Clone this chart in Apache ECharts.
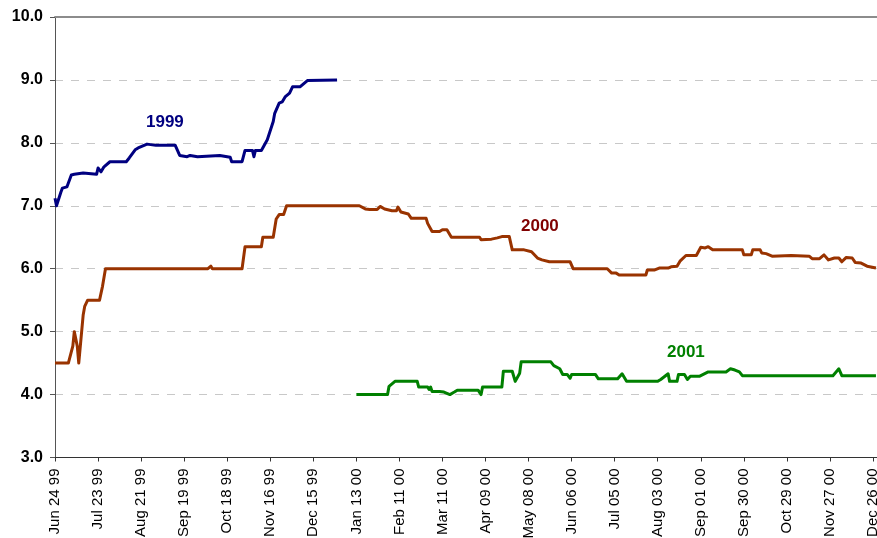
<!DOCTYPE html>
<html>
<head>
<meta charset="utf-8">
<script src="https://cdn.jsdelivr.net/npm/echarts@6/dist/echarts.min.js"></script>
<style>
html,body{margin:0;padding:0;background:#fff;}
#chart{width:877px;height:538px;}
</style>
</head>
<body>
<div id="chart"></div>
<script>
// x values are days since Jun 24 1999
const xTickLabels = ['Jun 24 99','Jul 23 99','Aug 21 99','Sep 19 99','Oct 18 99','Nov 16 99','Dec 15 99','Jan 13 00','Feb 11 00','Mar 11 00','Apr 09 00','May 08 00','Jun 06 00','Jul 05 00','Aug 03 00','Sep 01 00','Sep 30 00','Oct 29 00','Nov 27 00','Dec 26 00'];
const yTicks = [3,4,5,6,7,8,9,10];

const series1999 = [[0,7.12],[1,7.0],[4,7.22],[5,7.28],[8,7.3],[11,7.49],[13,7.5],[19,7.52],[20,7.5],[28,7.5],[29,7.6],[31,7.54],[33,7.62],[37,7.7],[48,7.7],[50,7.76],[54,7.89],[56,7.92],[62,7.98],[68,7.96],[81,7.96],[84,7.8],[89,7.78],[91,7.8],[96,7.78],[97,7.8],[111,7.8],[112,7.77],[118,7.77],[119,7.7],[126,7.7],[128,7.88],[133,7.88],[134,7.78],[135,7.88],[139,7.88],[143,8.05],[147,8.34],[148,8.47],[151,8.63],[153,8.65],[155,8.73],[158,8.79],[160,8.89],[165,8.89],[168,8.95],[170,8.99],[190,9.0]];

const series2000 = [[0,4.5],[9,4.5],[12,4.77],[13,5.0],[15,4.77],[16,4.5],[19,5.27],[20,5.4],[22,5.5],[30,5.5],[32,5.72],[34,6.0],[103,6.0],[105,6.04],[106,6.0],[126,6.0],[128,6.35],[139,6.35],[140,6.5],[147,6.5],[149,6.79],[151,6.86],[154,6.86],[156,7.0],[205,7.0],[209,6.95],[212,6.94],[217,6.94],[219,6.99],[222,6.95],[227,6.92],[230,6.92],[231,6.98],[233,6.9],[238,6.87],[240,6.8],[250,6.8],[251,6.72],[254,6.59],[259,6.59],[261,6.62],[264,6.62],[267,6.5],[286,6.5],[287,6.46],[294,6.47],[298,6.49],[301,6.51],[306,6.51],[308,6.3],[316,6.3],[321,6.27],[325,6.17],[328,6.14],[333,6.11],[347,6.11],[349,6.0],[372,6.0],[375,5.93],[378,5.93],[380,5.9],[398,5.9],[399,5.98],[404,5.98],[407,6.01],[413,6.01],[415,6.03],[419,6.04],[421,6.12],[425,6.21],[432,6.21],[435,6.34],[438,6.33],[440,6.35],[443,6.3],[463,6.3],[464,6.22],[469,6.22],[470,6.3],[475,6.3],[476,6.25],[479,6.24],[483,6.2],[496,6.21],[508,6.2],[510,6.16],[515,6.16],[516,6.14],[518,6.22],[521,6.14],[525,6.17],[528,6.17],[530,6.11],[533,6.18],[537,6.17],[539,6.1],[543,6.09],[547,6.04],[553,6.01]];

const series2001 = [[203,4.0],[224,4.0],[225,4.13],[229,4.21],[244,4.21],[245,4.12],[251,4.12],[252,4.08],[253,4.12],[254,4.05],[259,4.05],[262,4.04],[266,4.0],[269,4.04],[271,4.07],[285,4.07],[287,4.0],[288,4.12],[301,4.12],[302,4.37],[308,4.37],[310,4.21],[313,4.34],[314,4.52],[334,4.52],[336,4.46],[340,4.41],[342,4.32],[345,4.32],[347,4.26],[348,4.32],[364,4.32],[366,4.25],[379,4.25],[382,4.33],[385,4.21],[406,4.21],[408,4.24],[413,4.33],[414,4.21],[419,4.21],[420,4.32],[424,4.32],[426,4.24],[428,4.29],[434,4.29],[440,4.36],[452,4.36],[455,4.41],[458,4.39],[461,4.36],[463,4.3],[524,4.3],[528,4.41],[530,4.3],[553,4.3]];

const seriesNames = ['1999','2000','2001'];
const FONT = '"Liberation Sans", Arial, sans-serif';

const chart = echarts.init(document.getElementById('chart'));
function lineSeries(name, data, color){
  return {name:name, type:'line', data:data, showSymbol:false, symbol:'none',
    lineStyle:{color:color, width:3, join:'round'}, itemStyle:{color:color}, animation:false, z:3};
}
chart.setOption({
  animation:false,
  backgroundColor:'#fff',
  grid:{left:55, right:0, top:17, bottom:80.5, containLabel:false, outerBoundsMode:'none'},
  xAxis:[{
    type:'value', min:0, max:553.7, interval:29,
    axisLine:{show:true, onZero:false, lineStyle:{color:'#333', width:1}},
    axisTick:{show:true, length:4, lineStyle:{color:'#333'}},
    splitLine:{show:false},
    axisLabel:{rotate:90, margin:11, fontSize:15, color:'#000', fontFamily:FONT,
      showMaxLabel:false,
      formatter:function(v){ const i=Math.round(v/29); return (Math.abs(v-i*29)<0.01 && xTickLabels[i])?xTickLabels[i]:''; }}
  },{
    type:'value', position:'top', min:0, max:553.7,
    axisLine:{show:true, lineStyle:{color:'#8c8c8c', width:2}},
    axisTick:{show:false}, axisLabel:{show:false}, splitLine:{show:false}
  }],
  yAxis:{
    type:'value', min:yTicks[0], max:yTicks[yTicks.length-1], interval:1,
    axisLine:{show:true, lineStyle:{color:'#555', width:1}},
    axisTick:{show:true, length:5, lineStyle:{color:'#555'}},
    splitLine:{show:true, lineStyle:{color:'#c8c8c8', type:[8,8], width:1}},
    axisLabel:{margin:12, fontSize:16, fontWeight:'bold', color:'#000', fontFamily:FONT,
      formatter:function(v){return v.toFixed(1);}}
  },
  series:[
    lineSeries(seriesNames[0], series1999, '#000080'),
    lineSeries(seriesNames[1], series2000, '#993300'),
    lineSeries(seriesNames[2], series2001, '#008000')
  ],
  graphic:[
    {type:'text', left:146, top:114, style:{text:seriesNames[0], font:'bold 17px '+FONT, fill:'#000080'}},
    {type:'text', left:521, top:218, style:{text:seriesNames[1], font:'bold 17px '+FONT, fill:'#800000'}},
    {type:'text', left:667, top:344, style:{text:seriesNames[2], font:'bold 17px '+FONT, fill:'#008000'}}
  ]
});
</script>
</body>
</html>
